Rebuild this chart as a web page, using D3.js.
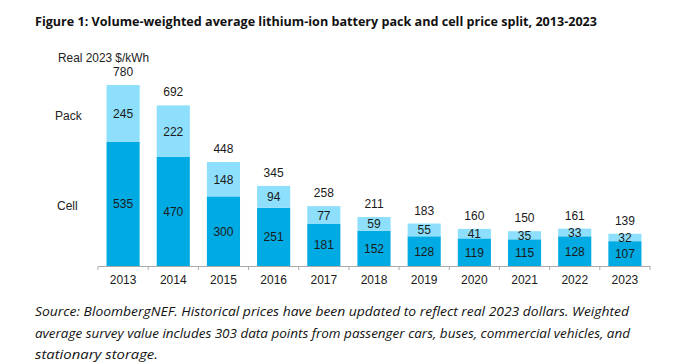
<!DOCTYPE html>
<html>
<head>
<meta charset="utf-8">
<script src="https://cdn.jsdelivr.net/npm/d3@7/dist/d3.min.js"></script>
<style>
  body { margin: 0; background: #fff; }
  svg { display: block; }
</style>
</head>
<body>
<div id="view"></div>
<script>
var width = 681, height = 364;

// data
var years = ["2013","2014","2015","2016","2017","2018","2019","2020","2021","2022","2023"];
var cellPrice = [535, 470, 300, 251, 181, 152, 128, 119, 115, 128, 107];
var packPrice = [245, 222, 148, 94, 77, 59, 55, 41, 35, 33, 32];
var totalPrice = [780, 692, 448, 345, 258, 211, 183, 160, 150, 161, 139];

var cellColor = "#00aae2", packColor = "#8edffb";
var baseY = 266;

var svg = d3.select("#view").append("svg")
	.attr("width", width)
	.attr("height", height);

var x = d3.scaleBand().domain(years).range([98, 650]).paddingInner(0.34).paddingOuter(0.17);
var y = d3.scaleLinear().domain([0, 780]).range([baseY, 85]);

var rows = years.map(function(yr, i) {
	return { year: yr, cell: cellPrice[i], pack: packPrice[i], total: totalPrice[i] };
});

// title
svg.append("text")
	.attr("x", 35).attr("y", 26)
	.attr("font-family", "Open Sans, Noto Sans, sans-serif")
	.attr("font-weight", "bold")
	.attr("font-size", 12.5)
	.attr("textLength", 562).attr("lengthAdjust", "spacingAndGlyphs")
	.attr("fill", "#111")
	.text("Figure 1: Volume-weighted average lithium-ion battery pack and cell price split, 2013-2023");

// unit label
svg.append("text")
	.attr("x", 58).attr("y", 62)
	.attr("font-family", "Liberation Sans, Arial, sans-serif")
	.attr("font-size", 12)
	.attr("textLength", 91).attr("lengthAdjust", "spacingAndGlyphs")
	.attr("fill", "#222")
	.text("Real 2023 $/kWh");

// side labels
svg.append("text").attr("x", 55).attr("y", 120)
	.attr("font-family", "Liberation Sans, Arial, sans-serif").attr("font-size", 12).attr("fill", "#222")
	.text("Pack");
svg.append("text").attr("x", 57).attr("y", 210)
	.attr("font-family", "Liberation Sans, Arial, sans-serif").attr("font-size", 12).attr("fill", "#222")
	.text("Cell");

var bars = svg.selectAll(".bar").data(rows).enter().append("g").attr("class", "bar");

bars.append("rect")
	.attr("x", function(d) { return x(d.year); })
	.attr("width", x.bandwidth())
	.attr("y", function(d) { return y(d.cell); })
	.attr("height", function(d) { return y(0) - y(d.cell); })
	.attr("fill", cellColor);

bars.append("rect")
	.attr("x", function(d) { return x(d.year); })
	.attr("width", x.bandwidth())
	.attr("y", function(d) { return y(d.cell + d.pack); })
	.attr("height", function(d) { return y(d.cell) - y(d.cell + d.pack); })
	.attr("fill", packColor);

var lblFont = "Liberation Sans, Arial, sans-serif";

// segment labels
bars.append("text")
	.attr("x", function(d) { return x(d.year) + x.bandwidth() / 2; })
	.attr("y", function(d) { return (y(0) + y(d.cell)) / 2 + 4.5; })
	.attr("text-anchor", "middle")
	.attr("font-family", lblFont).attr("font-size", 12).attr("fill", "#1a1a1a")
	.text(function(d) { return d.cell; });

bars.append("text")
	.attr("x", function(d) { return x(d.year) + x.bandwidth() / 2; })
	.attr("y", function(d) { return (y(d.cell) + y(d.cell + d.pack)) / 2 + 4.5; })
	.attr("text-anchor", "middle")
	.attr("font-family", lblFont).attr("font-size", 12).attr("fill", "#1a1a1a")
	.text(function(d) { return d.pack; });

// totals
bars.append("text")
	.attr("x", function(d) { return x(d.year) + x.bandwidth() / 2; })
	.attr("y", function(d) { return y(d.cell + d.pack) - 9; })
	.attr("text-anchor", "middle")
	.attr("font-family", lblFont).attr("font-size", 12).attr("fill", "#1a1a1a")
	.text(function(d) { return d.total; });

// x axis
var axis = svg.append("g")
	.attr("transform", "translate(0," + baseY + ")")
	.call(d3.axisBottom(x).tickSize(0).tickPadding(9));
axis.select(".domain").attr("stroke", "#aaa");
axis.selectAll("text").attr("font-family", lblFont).attr("font-size", 12).attr("fill", "#1a1a1a");

// boundary ticks between categories
var step = x.step();
var bounds = d3.range(years.length + 1).map(function(i) { return x(years[0]) - step * 0.17 + i * step; });
axis.selectAll(".bt").data(bounds).enter().append("line")
	.attr("x1", function(d) { return d; }).attr("x2", function(d) { return d; })
	.attr("y1", 0).attr("y2", 4)
	.attr("stroke", "#aaa");

// source note
var note = [
	"Source: BloombergNEF. Historical prices have been updated to reflect real 2023 dollars. Weighted",
	"average survey value includes 303 data points from passenger cars, buses, commercial vehicles, and",
	"stationary storage."
];
var noteLen = [594, 595, 123];
svg.selectAll(".note").data(note).enter().append("text")
	.attr("class", "note")
	.attr("x", 35)
	.attr("y", function(d, i) { return 316 + i * 21.5; })
	.attr("font-family", "Open Sans, Noto Sans, sans-serif")
	.attr("font-style", "italic")
	.attr("font-size", 12.5)
	.attr("textLength", function(d, i) { return noteLen[i]; })
	.attr("lengthAdjust", "spacingAndGlyphs")
	.attr("fill", "#111")
	.text(function(d) { return d; });
</script>
</body>
</html>
